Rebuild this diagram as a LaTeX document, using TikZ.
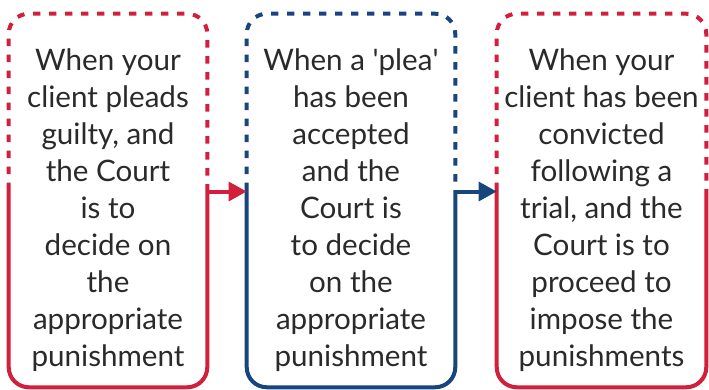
\documentclass[tikz,border=0pt]{standalone}
\usepackage{fontspec}
\setmainfont{Lato}
\usetikzlibrary{arrows.meta,calc}
\definecolor{redc}{HTML}{D21F3C}
\definecolor{bluec}{HTML}{17457E}
\definecolor{txtc}{HTML}{2A2A2A}
\tikzset{
  box/.style={draw=none, inner sep=0pt, minimum height=373*0.75pt},
  txt/.style={align=center, text=txtc, inner sep=0pt, font=\fontsize{22.2}{27.75}\selectfont},
  dashpart/.style={line width=3pt, dash pattern=on 5.5pt off 6.5pt, rounded corners=15pt},
  solidpart/.style={line width=3pt, rounded corners=15pt},
  link/.style={line width=3pt, -{Triangle[length=13.5pt,width=14pt]}},
}
\begin{document}
\begin{tikzpicture}[x=0.75pt,y=-0.75pt]
\useasboundingbox (0,0) rectangle (709,389);
\coordinate (split) at (0,190);
\coordinate (arr) at (0,191.5);
\node[box, minimum width=198*0.75pt] (b1) at (108,200.5) {};
\node[box, minimum width=208*0.75pt] (b2) at (351,200.5) {};
\node[box, minimum width=209*0.75pt] (b3) at (601.5,200.5) {};
% borders
\foreach \b/\c in {b1/redc,b2/bluec,b3/redc}{
  \draw[dashpart,\c] (\b.west|-split) |- (\b.north) -| (\b.east|-split);
  \draw[solidpart,\c] (\b.west|-split) |- (\b.south) -| (\b.east|-split);
}
% texts
\node[txt] (t1) at (108,210) {When your\\client pleads\\guilty, and\\the Court\\is to\\decide on\\the\\appropriate\\punishment};
\node[txt] (t2) at (351,210) {When a \textquotesingle plea\textquotesingle\\has been\\accepted\\and the\\Court is\\to decide\\on the\\appropriate\\punishment};
\node[txt] (t3) at (601.5,210) {When your\\client has been\\convicted\\following a\\trial, and the\\Court is to\\proceed to\\impose the\\punishments};
% arrows
\draw[link,redc] (b1.east|-arr) -- (b2.west|-arr);
\draw[link,bluec] (b2.east|-arr) -- (b3.west|-arr);
\end{tikzpicture}
\end{document}
